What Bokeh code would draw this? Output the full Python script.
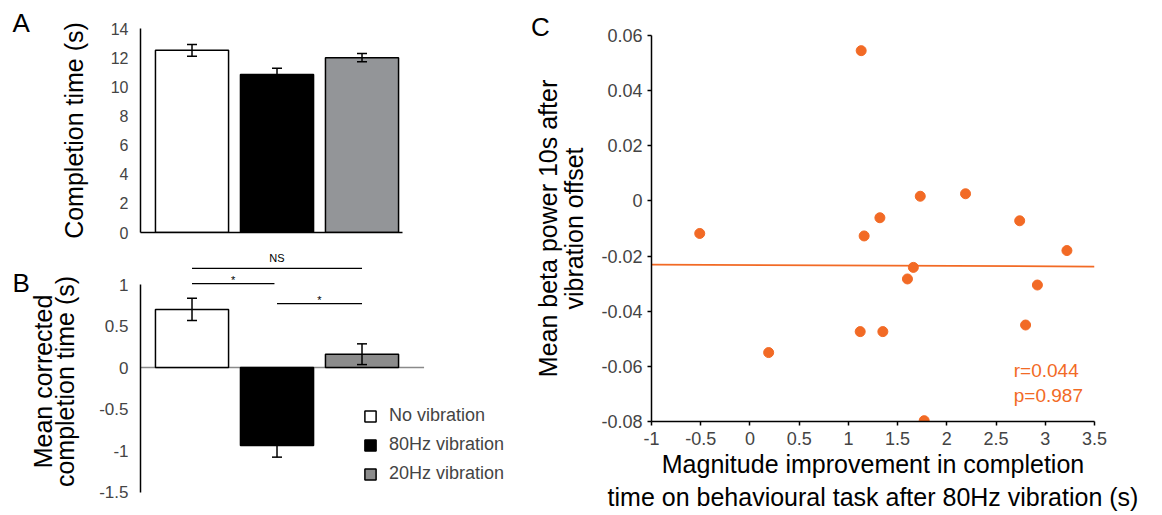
import math
from bokeh.plotting import figure
from bokeh.layouts import row, column
from bokeh.models import (Range1d, FixedTicker, CustomJSTickFormatter, ColumnDataSource,
                          Whisker, TeeHead, Label, Legend, LegendItem)
from bokeh.core.properties import value
from bokeh.embed import file_html
from bokeh.resources import INLINE

FONT = "Liberation Sans"

# ---------------- data ----------------
conditions = ["No vibration", "80Hz vibration", "20Hz vibration"]
bar_colors_a = ["white", "black", "#939598"]
bar_colors_b = ["white", "black", "#8c8c8c"]

completion_time = [12.5, 10.85, 12.0]
completion_err = [0.40, 0.42, 0.29]
a_ticks = [0, 2, 4, 6, 8, 10, 12, 14]

corrected_time = [0.70, -0.94, 0.16]
corrected_err = [0.135, 0.14, 0.125]
b_ticks = [-1.5, -1, -0.5, 0, 0.5, 1]

sig_start = [1, 2, 1]
sig_end = [1.97, 3, 3]
sig_height = [1.01, 0.77, 1.195]
sig_text = ["*", "*", "NS"]

improvement = [1.13, -0.51, 1.16, 1.32, 1.73, 2.19, 2.74, 3.22,
               1.66, 1.60, 2.92, 2.80, 1.12, 1.35, 0.19, 1.77]
beta_power = [0.0545, -0.0118, -0.0127, -0.0061, 0.0017, 0.0026, -0.0072, -0.0180,
              -0.0241, -0.0283, -0.0305, -0.0450, -0.0474, -0.0474, -0.0550, -0.0797]
fit_x = [-1, 3.5]
fit_y = [-0.0231, -0.0238]
r_text = "r=0.044"
p_text = "p=0.987"
c_xticks = [-1, -0.5, 0, 0.5, 1, 1.5, 2, 2.5, 3, 3.5]
c_yticks = [-0.08, -0.06, -0.04, -0.02, 0, 0.02, 0.04, 0.06]

ORANGE = "#f26a25"
xs = [i + 1 for i in range(len(conditions))]
BAR_W = 0.86

fmt = CustomJSTickFormatter(code="return tick.toString()")


def base_fig(**kw):
    p = figure(output_backend="svg", toolbar_location=None, **kw)
    p.grid.visible = False
    p.outline_line_color = None
    p.background_fill_color = None
    p.border_fill_color = None
    return p


def style_axis(ax, size):
    ax.major_label_text_font = FONT
    ax.major_label_text_font_size = size
    ax.axis_line_color = "black"
    ax.axis_line_width = 1.5
    ax.minor_tick_line_color = None
    ax.major_tick_line_color = "black"
    ax.major_tick_line_width = 1.5
    ax.axis_label_text_font = FONT
    ax.axis_label_text_font_style = "normal"
    ax.axis_label_text_color = "black"


def letter(text, x, y):
    return Label(x=x, y=y, text=text, text_font=FONT, text_font_size="26px",
                 text_align="left", text_baseline="alphabetic", text_color="black")


# ---------------- panel A ----------------
LEFT_W = 530
A_L, A_T, A_AXIS_R, A_B = 140, 28, 402, 232
FR_R = 510
PX_X = 85.0
X0 = 0.394
X1 = X0 + (FR_R - A_L) / PX_X
pA = base_fig(width=LEFT_W, height=250,
              x_range=Range1d(X0, X1), y_range=Range1d(0, 14),
              min_border_left=A_L, min_border_right=LEFT_W - FR_R,
              min_border_top=A_T, min_border_bottom=250 - A_B)
style_axis(pA.yaxis[0], "16px")
pA.yaxis.ticker = FixedTicker(ticks=a_ticks)
pA.yaxis.formatter = fmt
pA.yaxis.major_tick_line_color = None
pA.yaxis.major_tick_out = 0
pA.yaxis.major_label_standoff = 12
pA.yaxis.axis_label = "Completion time (s)"
pA.yaxis.axis_label_text_font_size = "25px"
pA.yaxis.axis_label_standoff = 20
style_axis(pA.xaxis[0], "0px")
pA.xaxis.ticker = FixedTicker(ticks=[])
pA.xaxis.major_tick_line_color = None
pA.xaxis.bounds = (X0, X0 + (A_AXIS_R - A_L) / PX_X)

srcA = ColumnDataSource(dict(x=xs, top=completion_time, color=bar_colors_a,
                             upper=[v + e for v, e in zip(completion_time, completion_err)],
                             lower=[v - e for v, e in zip(completion_time, completion_err)]))
pA.vbar(x="x", top="top", bottom=0, width=BAR_W, fill_color="color",
        line_color="black", line_width=1.5, source=srcA)
pA.add_layout(Whisker(source=srcA, base="x", upper="upper", lower="lower", level="overlay",
                      line_color="black", line_width=1.5,
                      upper_head=TeeHead(size=10, line_color="black", line_width=1.5),
                      lower_head=TeeHead(size=10, line_color="black", line_width=1.5)))


def ax_(px):
    return X0 + (px - A_L) / PX_X


def ay_(py):
    return (A_B - py) / ((A_B - A_T) / 14.0)


pA.add_layout(letter("A", ax_(12), ay_(22)), "left")

# ---------------- panel B ----------------
B_TOP_PAGE, B_BOT_PAGE, B_ZERO, B_PX = 252, 510, 367, 83.0
pB = base_fig(width=LEFT_W, height=265, x_axis_location=None,
              x_range=Range1d(X0, X1),
              y_range=Range1d(-(B_BOT_PAGE - B_ZERO) / B_PX, (B_ZERO - B_TOP_PAGE) / B_PX),
              min_border_left=A_L, min_border_right=LEFT_W - FR_R,
              min_border_top=B_TOP_PAGE - 250, min_border_bottom=515 - B_BOT_PAGE)
style_axis(pB.yaxis[0], "17px")
pB.yaxis.ticker = FixedTicker(ticks=b_ticks)
pB.yaxis.formatter = fmt
pB.yaxis.bounds = (min(b_ticks), max(b_ticks))
pB.yaxis.major_tick_line_color = None
pB.yaxis.major_tick_out = 0
pB.yaxis.major_label_standoff = 12
pB.yaxis.axis_label = "Mean corrected\ncompletion time (s)"
pB.yaxis.axis_label_text_font_size = "25px"
pB.yaxis.axis_label_text_line_height = 0.8
pB.yaxis.axis_label_standoff = 17

# zero line
pB.segment(x0=X0, y0=0, x1=xs[-1] + BAR_W / 2 + 0.3, y1=0, line_color="#8a8a8a", line_width=1.5)

srcB = ColumnDataSource(dict(x=xs, top=corrected_time, color=bar_colors_b,
                             upper=[v + e for v, e in zip(corrected_time, corrected_err)],
                             lower=[v - e for v, e in zip(corrected_time, corrected_err)]))
rB = pB.vbar(x="x", top="top", bottom=0, width=BAR_W, fill_color="color",
             line_color="black", line_width=1.5, source=srcB)
pB.add_layout(Whisker(source=srcB, base="x", upper="upper", lower="lower", level="overlay",
                      line_color="black", line_width=1.5,
                      upper_head=TeeHead(size=10, line_color="black", line_width=1.5),
                      lower_head=TeeHead(size=10, line_color="black", line_width=1.5)))

pB.segment(x0=sig_start, y0=sig_height, x1=sig_end, y1=sig_height,
           line_color="black", line_width=1.3)
sig_mid = [(a + b) / 2 for a, b in zip(sig_start, sig_end)]
sig_ty = [h + (0.12 if t == "NS" else 0.045) for h, t in zip(sig_height, sig_text)]
pB.text(x=sig_mid, y=sig_ty, text=sig_text, text_align="center", text_baseline="middle",
        text_font=value(FONT), text_font_size="11px", text_color="black")

legend = Legend(items=[LegendItem(label=c, renderers=[rB], index=i) for i, c in enumerate(conditions)],
                location=(223, 26), orientation="vertical",
                glyph_width=14, glyph_height=14, label_height=14, label_width=20,
                spacing=8, padding=0, margin=0, border_line_color=None,
                background_fill_alpha=0, label_standoff=12,
                label_text_font=FONT, label_text_font_size="18px")
pB.add_layout(legend)


def by_(py):
    return (B_ZERO - py) / B_PX


pB.add_layout(letter("B", ax_(12), by_(282)), "left")

# ---------------- panel C ----------------
C_OFF = LEFT_W
C_L, C_R, C_T, C_B = 649, 1094, 35, 421
pC = base_fig(width=1162 - C_OFF, height=515,
              x_range=Range1d(-1, 3.5), y_range=Range1d(-0.08, 0.06),
              min_border_left=C_L - C_OFF, min_border_right=1162 - C_R,
              min_border_top=C_T, min_border_bottom=515 - C_B)
for ax in (pC.xaxis[0], pC.yaxis[0]):
    style_axis(ax, "18px")
    ax.major_tick_out = 4
    ax.major_tick_in = 0
    ax.formatter = fmt
    ax.axis_label_text_font_size = "25px"
pC.yaxis.ticker = FixedTicker(ticks=c_yticks)
pC.yaxis.major_label_standoff = 5
pC.yaxis.axis_label = "Mean beta power 10s after\nvibration offset"
pC.yaxis.axis_label_text_line_height = 0.95
pC.yaxis.axis_label_standoff = 10
pC.xaxis.ticker = FixedTicker(ticks=c_xticks)
pC.xaxis.major_label_standoff = 6
pC.xaxis.axis_label = "Magnitude improvement in completion\ntime on behavioural task after 80Hz vibration (s)"
pC.xaxis.axis_label_text_line_height = 1.2
pC.xaxis.axis_label_standoff = 2

pC.line(x=fit_x, y=fit_y, line_color=ORANGE, line_width=1.8)
pC.scatter(x=improvement, y=beta_power, size=10, fill_color=ORANGE, line_color=ORANGE)

C_PXX = (C_R - C_L) / 4.5
C_PXY = (C_B - C_T) / 0.14


def cx_(px):
    return -1 + (px - C_L) / C_PXX


def cy_(py):
    return 0.06 - (py - C_T) / C_PXY


pC.add_layout(Label(x=2.68, y=-0.0616, text=r_text, text_font=FONT, text_font_size="19px",
                    text_color=ORANGE, text_align="left", text_baseline="middle"))
pC.add_layout(Label(x=2.68, y=-0.0704, text=p_text, text_font=FONT, text_font_size="19px",
                    text_color=ORANGE, text_align="left", text_baseline="middle"))
pC.add_layout(letter("C", cx_(528), cy_(26)), "above")

layout = row(column(pA, pB), pC)
open("out.html", "w").write(file_html(layout, INLINE))
